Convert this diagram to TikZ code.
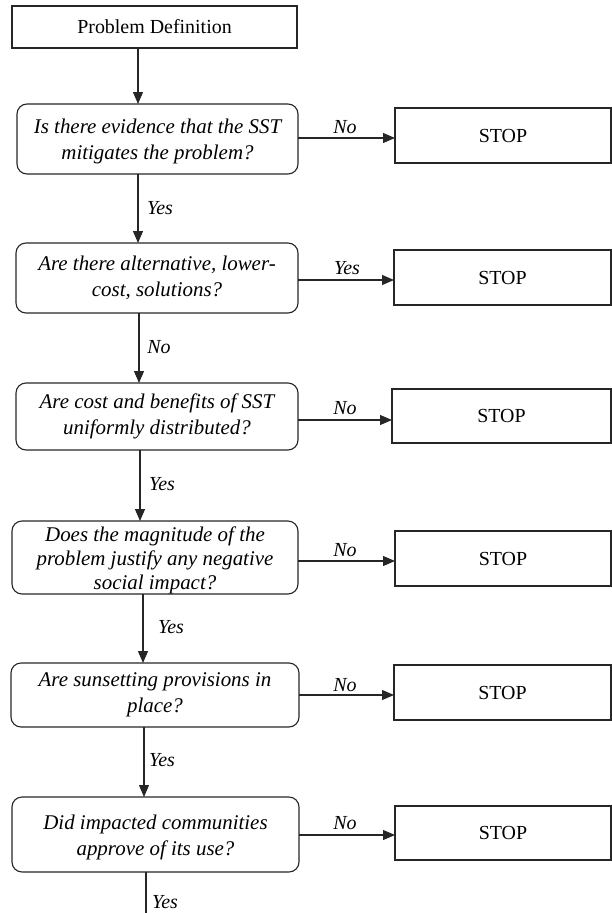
\documentclass[tikz,border=0pt]{standalone}
\usepackage{fontspec}
\setmainfont{Liberation Serif}
\usetikzlibrary{arrows.meta}
\begin{document}
\begin{tikzpicture}[x=1bp,y=-1bp,
  box/.style={draw=black!85, line width=1.1bp, inner sep=0pt, outer sep=0pt, align=center, font=\fontsize{20}{25}\selectfont},
  qbox/.style={box, rounded corners=10bp, font=\fontsize{21}{26}\selectfont\itshape},
  stopbox/.style={box, minimum height=55bp},
  arr/.style={draw=black!85, line width=1.1bp, -{Triangle[length=12bp,width=10bp]}},
  plain/.style={draw=black!85, line width=1.1bp},
  lbl/.style={font=\fontsize{20}{24}\selectfont\itshape, inner sep=0pt}]
\useasboundingbox (0,0) rectangle (612,913);

% main column
\node[box, minimum width=285bp, minimum height=42bp] (pd) at (154.5,27) {Problem Definition};
\node[qbox, minimum width=281bp, minimum height=70bp] (q1) at (157.5,139) {\rule{0pt}{20bp}Is there evidence that the SST\\mitigates the problem?};
\node[qbox, minimum width=282bp, minimum height=70bp] (q2) at (157,278) {Are there alternative, lower-\\cost, solutions?};
\node[qbox, minimum width=282bp, minimum height=67bp] (q3) at (157,416.5) {Are cost and benefits of SST\\uniformly distributed?};
\node[qbox, minimum width=286bp, minimum height=73bp, font=\fontsize{21}{24}\selectfont\itshape] (q4) at (155,557.5) {\rule{0pt}{20bp}Does the magnitude of the\\problem justify any negative\\social impact?};
\node[qbox, minimum width=288bp, minimum height=64bp] (q5) at (155,695) {Are sunsetting provisions in\\place?};
\node[qbox, minimum width=287bp, minimum height=75bp] (q6) at (155.5,834.5) {\rule{0pt}{20bp}Did impacted communities\\approve of its use?};

% stop boxes
\node[stopbox, minimum width=216bp] (s1) at (503,135.5) {STOP};
\node[stopbox, minimum width=217bp] (s2) at (502.5,277.5) {STOP};
\node[stopbox, minimum width=219bp, minimum height=54bp] (s3) at (501.5,416) {STOP};
\node[stopbox, minimum width=216bp] (s4) at (503,558.5) {STOP};
\node[stopbox, minimum width=217bp] (s5) at (502.5,692.5) {STOP};
\node[stopbox, minimum width=216bp, minimum height=54bp] (s6) at (503,833) {STOP};

% vertical connectors
\draw[arr] (pd.south -| 138,0) -- (q1.north -| 138,0);
\draw[arr] (q1.south -| 138,0) -- (q2.north -| 138,0);
\draw[arr] (q2.south -| 139,0) -- (q3.north -| 139,0);
\draw[arr] (q3.south -| 140,0) -- (q4.north -| 140,0);
\draw[arr] (q4.south -| 143,0) -- (q5.north -| 143,0);
\draw[arr] (q5.south -| 144,0) -- (q6.north -| 144,0);
\coordinate (end) at (146,915);
\draw[plain] (q6.south -| end) -- (end);

% horizontal connectors
\draw[arr] (q1.east |- 0,138) -- (s1.west |- 0,138);
\draw[arr] (q2.east |- 0,280) -- (s2.west |- 0,280);
\draw[arr] (q3.east |- 0,420) -- (s3.west |- 0,420);
\draw[arr] (q4.east |- 0,561) -- (s4.west |- 0,561);
\draw[arr] (q5.east |- 0,695) -- (s5.west |- 0,695);
\draw[arr] (q6.east |- 0,835) -- (s6.west |- 0,835);

% labels
\node[lbl] (l1) at (160,208) {Yes};
\node[lbl] (l2) at (159,347) {No};
\node[lbl] (l3) at (162,484) {Yes};
\node[lbl] (l4) at (171,627) {Yes};
\node[lbl] (l5) at (162,760) {Yes};
\node[lbl] (l6) at (165,902) {Yes};

\node[lbl] (h1) at (345,127) {No};
\node[lbl] (h2) at (347,268) {Yes};
\node[lbl] (h3) at (345,408) {No};
\node[lbl] (h4) at (345,550) {No};
\node[lbl] (h5) at (345,685) {No};
\node[lbl] (h6) at (345,823) {No};
\end{tikzpicture}
\end{document}
